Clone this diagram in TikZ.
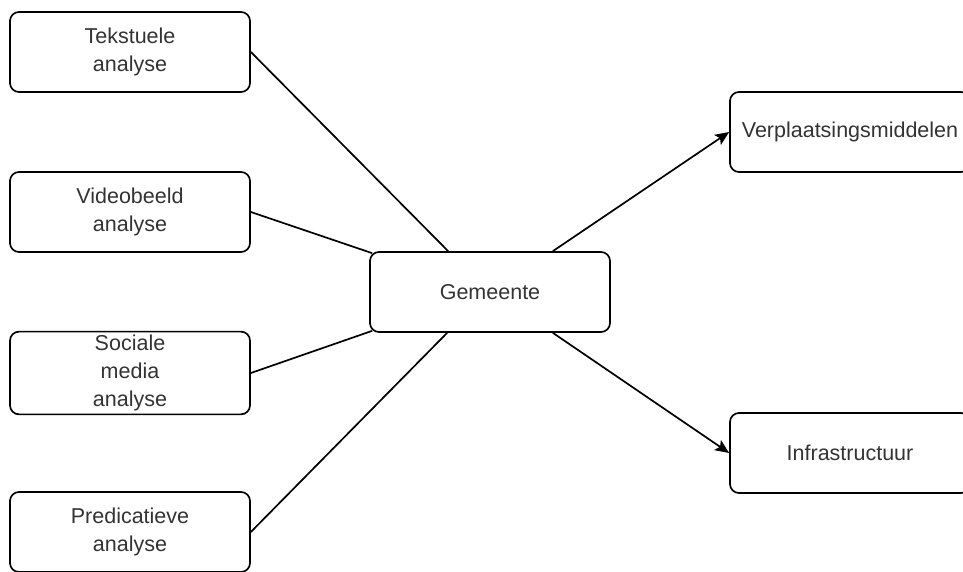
\documentclass[tikz,border=0pt]{standalone}
\usepackage{fontspec}
\setmainfont{Liberation Sans}
\usetikzlibrary{arrows.meta}

\tikzset{
  blok/.style={draw=black, line width=1.7pt, rounded corners=9pt,
    minimum width=240pt, minimum height=80pt, align=center,
    text=black!80, font=\fontsize{21.5}{28}\selectfont},
  lijn/.style={black, line width=1.7pt}
}

\begin{document}
\begin{tikzpicture}[x=1pt, y=-1pt]

        \useasboundingbox (0,0) rectangle (963,572);
        \clip (0,0) rectangle (963,572);

        % linker kolom
        \node[blok] (tekst) at (130,52) {Tekstuele\\analyse};
        \node[blok] (video) at (130,212) {Videobeeld\\analyse};
        \node[blok] (sociaal) at (130,373) {Sociale\\media\\analyse};
        \node[blok] (predic) at (130,532) {Predicatieve\\analyse};

        % midden
        \node[blok] (gemeente) at (490,292) {Gemeente};

        % rechter kolom
        \node[blok] (verpl) at (850,132) {Verplaatsingsmiddelen};
        \node[blok] (infra) at (850,453) {Infrastructuur};

        \draw [lijn] (tekst.east) -- ([xshift=79pt]gemeente.north west);
        \draw [lijn] (video.east) -- ([xshift=3pt,yshift=-2pt]gemeente.north west);
        \draw [lijn] (sociaal.east) -- ([xshift=3pt,yshift=2pt]gemeente.south west);
        \draw [lijn] (predic.east) -- ([xshift=78pt]gemeente.south west);

        \draw [lijn, -{Stealth[length=14pt,width=12pt,inset=3pt]}] ([xshift=-58pt]gemeente.north east) -- (verpl.west);
        \draw [lijn, -{Stealth[length=14pt,width=12pt,inset=3pt]}] ([xshift=-58pt]gemeente.south east) -- (infra.west);

\end{tikzpicture}
\end{document}
